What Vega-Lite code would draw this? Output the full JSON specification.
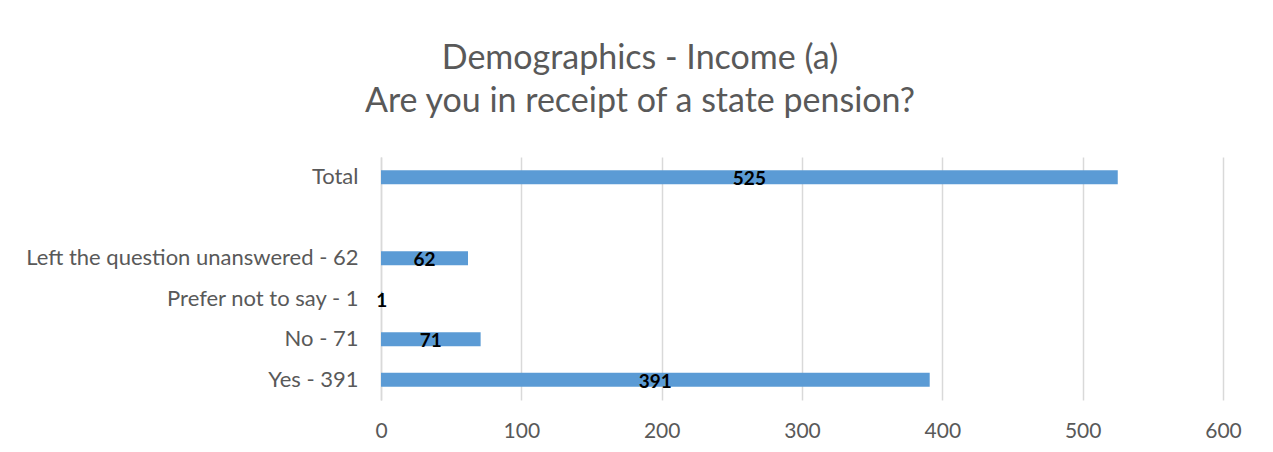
{
  "$schema": "https://vega.github.io/schema/vega-lite/v6.json",
  "autosize": {"type": "none"},
  "padding": {"left": 381, "top": 157, "right": 50, "bottom": 52},
  "width": 842,
  "height": 243,
  "background": "#ffffff",
  "config": {"view": {"stroke": null}},
  "title": {
    "text": ["Demographics - Income (a)", "Are you in receipt of a state pension?"],
    "font": "Lato",
    "fontSize": 34,
    "fontWeight": "normal",
    "color": "#595959",
    "lineHeight": 43,
    "anchor": "middle",
    "frame": "group",
    "dx": -162,
    "offset": 38
  },
  "data": {
    "values": [
      {"category": "Total", "value": 525},
      {"category": "Left the question unanswered - 62", "value": 62},
      {"category": "Prefer not to say - 1", "value": 1},
      {"category": "No - 71", "value": 71},
      {"category": "Yes - 391", "value": 391}
    ]
  },
  "encoding": {
    "y": {
      "field": "category",
      "type": "nominal",
      "scale": {
        "domain": ["Total", " ", "Left the question unanswered - 62", "Prefer not to say - 1", "No - 71", "Yes - 391"],
        "paddingInner": 0,
        "paddingOuter": 0
      },
      "axis": {
        "title": null,
        "ticks": false,
        "domain": true,
        "domainColor": "#d9d9d9",
        "domainWidth": 1.5,
        "labelFont": "Lato",
        "labelFontSize": 22,
        "labelColor": "#595959",
        "labelPadding": 23,
        "labelLimit": 400
      }
    }
  },
  "layer": [
    {
      "mark": {"type": "bar", "color": "#5b9bd5", "height": 14},
      "encoding": {
        "x": {
          "field": "value",
          "type": "quantitative",
          "scale": {"domain": [0, 600], "nice": false},
          "axis": {
            "title": null,
            "values": [0, 100, 200, 300, 400, 500, 600],
            "domain": false,
            "ticks": false,
            "grid": true,
            "gridColor": "#d9d9d9",
            "gridWidth": 1.5,
            "labelFlush": false,
            "labelFont": "Lato",
            "labelFontSize": 21,
            "labelColor": "#595959",
            "labelPadding": 20
          }
        }
      }
    },
    {
      "transform": [{"calculate": "datum.value / 2", "as": "mid"}],
      "mark": {"type": "text", "font": "Lato", "fontSize": 19, "fontWeight": "bold", "color": "#000000", "baseline": "middle", "align": "center", "dy": 2},
      "encoding": {
        "x": {"field": "mid", "type": "quantitative"},
        "text": {"field": "value", "type": "quantitative"}
      }
    }
  ]
}
